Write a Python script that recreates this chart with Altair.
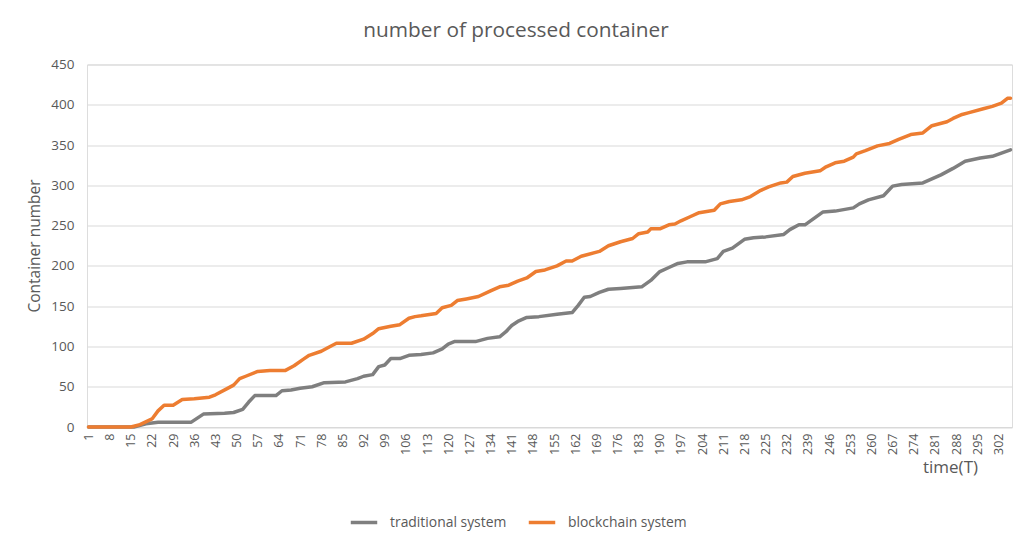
import altair as alt
import pandas as pd

# ---- data ----
time_traditional = [1, 16, 20, 24, 35, 37, 39, 46, 49, 52, 54, 56, 63, 65, 68, 71, 75, 79, 86, 90,
                    92, 95, 97, 99, 101, 104, 107, 111, 115, 118, 120, 122, 129, 133, 137, 139, 141,
                    143, 146, 150, 156, 161, 163, 165, 167, 170, 173, 177, 184, 187, 190, 193, 196,
                    199, 205, 209, 211, 214, 218, 221, 225, 231, 233, 236, 238, 241, 244, 248, 254,
                    256, 259, 264, 267, 270, 277, 280, 283, 287, 291, 296, 300, 303, 306]
traditional = [0, 0, 4, 6, 6, 11, 16, 17, 18, 22, 31, 39, 39, 45, 46, 48, 50, 55, 56, 60,
               63, 65, 75, 77, 85, 85, 89, 90, 92, 97, 103, 106, 106, 110, 112, 118, 126,
               131, 136, 137, 140, 142, 151, 161, 162, 167, 171, 172, 174, 182, 193, 198, 203,
               205, 205, 209, 218, 222, 233, 235, 236, 239, 245, 251, 251, 259, 267, 268, 272,
               277, 282, 287, 299, 301, 303, 308, 313, 321, 330, 334, 336, 340, 344]

time_blockchain = [1, 15, 18, 22, 24, 26, 29, 32, 36, 41, 43, 47, 49, 51, 53, 57, 61, 66, 69, 72,
                   74, 78, 80, 83, 88, 92, 95, 97, 101, 104, 107, 109, 111, 116, 118, 121, 123,
                   126, 130, 134, 137, 140, 143, 146, 149, 152, 156, 159, 161, 164, 170, 173, 177,
                   181, 183, 186, 187, 190, 193, 195, 197, 200, 203, 208, 210, 213, 217, 220, 223,
                   226, 230, 232, 234, 238, 243, 245, 248, 251, 254, 255, 258, 262, 266, 269, 273,
                   277, 280, 285, 287, 290, 292, 297, 300, 303, 305, 306]
blockchain = [0, 0, 3, 10, 20, 27, 27, 34, 35, 37, 40, 48, 52, 60, 63, 69, 70, 70, 76, 84,
              89, 94, 98, 104, 104, 109, 116, 122, 125, 127, 135, 137, 138, 141, 148, 151, 157,
              159, 162, 169, 174, 176, 181, 185, 193, 195, 200, 206, 206, 212, 218, 225, 230,
              234, 240, 242, 246, 246, 251, 252, 256, 261, 266, 269, 277, 280, 282, 286, 293,
              298, 303, 304, 311, 315, 318, 323, 328, 330, 335, 339, 343, 349, 352, 357, 363,
              365, 374, 379, 383, 388, 390, 395, 398, 402, 408, 408]

series_names = ["traditional system", "blockchain system"]
series_colors = ["#7F7F7F", "#ED7D31"]
x_ticks = list(range(1, 303, 7))
y_ticks = list(range(0, 451, 50))

df = pd.concat([
    pd.DataFrame({"t": time_traditional, "v": traditional, "series": series_names[0]}),
    pd.DataFrame({"t": time_blockchain, "v": blockchain, "series": series_names[1]}),
], ignore_index=True)

FONT = "Open Sans"
TXT = "#595959"

chart = alt.Chart(df).mark_line(strokeWidth=3.5, strokeJoin="round", strokeCap="round").encode(
    x=alt.X("t:Q",
            scale=alt.Scale(domain=[0.5, 306.5], nice=False, zero=False),
            axis=alt.Axis(values=x_ticks, format="d", labelAngle=270, labelAlign="right",
                          labelBaseline="middle", labelPadding=6, ticks=False, grid=False,
                          domainColor="#d9d9d9", domainWidth=1, labelColor=TXT, labelFontSize=12.5,
                          labelFont=FONT, labelFlush=False, labelOverlap=False,
                          title="time(T)", titleX=863, titleY=40, titleAlign="center",
                          titleBaseline="middle", titleFontWeight="normal", titleFontSize=17,
                          titleColor=TXT, titleFont=FONT)),
    y=alt.Y("v:Q",
            scale=alt.Scale(domain=[0, 450], nice=False),
            axis=alt.Axis(values=y_ticks, ticks=False, domain=False, grid=True,
                          gridColor="#d9d9d9", gridWidth=1, labelPadding=13, labelColor=TXT,
                          labelFontSize=13.5, labelFont=FONT,
                          title="Container number", titleX=-53, titleY=181, titleAngle=270,
                          titleAlign="center", titleBaseline="middle", titleFontWeight="normal",
                          titleFontSize=15.5, titleColor=TXT, titleFont=FONT)),
    color=alt.Color("series:N",
                    scale=alt.Scale(domain=series_names, range=series_colors),
                    legend=alt.Legend(title=None, orient="none", direction="horizontal",
                                      legendX=262, legendY=443, symbolType="stroke",
                                      symbolSize=700, symbolStrokeWidth=3.5, labelFontSize=13.9,
                                      labelColor=TXT, labelFont=FONT, labelOffset=11,
                                      columnPadding=14, padding=0)),
).properties(
    width=925,
    height=362.5,
    autosize=alt.AutoSizeParams(type="none"),
    padding={"left": 79, "top": 56.5, "right": 12, "bottom": 113},
    title=alt.TitleParams("number of processed container", font=FONT, fontSize=20.8,
                          fontWeight="normal", color=TXT, anchor="middle", dx=-33.5, offset=16),
).configure_view(stroke=None).configure(background="white")

chart.save("out.html", embed_options={"renderer": "svg", "actions": False})
